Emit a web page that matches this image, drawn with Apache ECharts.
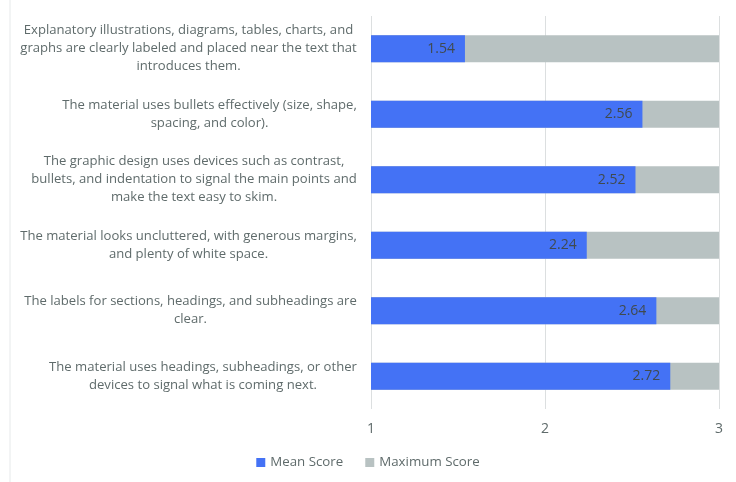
<!DOCTYPE html>
<html><head><meta charset="utf-8">
<script src="https://cdn.jsdelivr.net/npm/echarts@6/dist/echarts.min.js"></script>
<style>html,body{margin:0;padding:0;background:#fff}#c{width:736px;height:482px}</style>
</head><body><div id="c"></div>
<script>
const categories = [
  "Explanatory illustrations, diagrams, tables, charts, and\ngraphs are clearly labeled and placed near the text that\nintroduces them.",
  "The material uses bullets effectively (size, shape,\nspacing, and color).",
  "The graphic design uses devices such as contrast,\nbullets, and indentation to signal the main points and\nmake the text easy to skim.",
  "The material looks uncluttered, with generous margins,\nand plenty of white space.",
  "The labels for sections, headings, and subheadings are\nclear.",
  "The material uses headings, subheadings, or other\ndevices to signal what is coming next."
];
const meanScore = [1.54, 2.56, 2.52, 2.24, 2.64, 2.72];
const maximumScore = [3, 3, 3, 3, 3, 3];
const xTicks = [1, 2, 3];

const FONT = '"Open Sans"';
const FS = 13.1;
const cv = document.createElement('canvas').getContext('2d');
cv.font = FS + 'px ' + FONT;
const rich = {};
const fmtMap = {};
categories.forEach((c, i) => {
  const lines = c.split('\n');
  const w = Math.ceil(Math.max(...lines.map(l => cv.measureText(l).width)));
  rich['r' + i] = {width: w, align: 'center', fontFamily: FONT, fontSize: FS, color: '#5f6b6b', lineHeight: 18};
  fmtMap[c] = lines.map(l => '{r' + i + '|' + l + '}').join('\n');
});

const chart = echarts.init(document.getElementById('c'));
chart.setOption({
  animation: false,
  graphic: [{type: 'line', shape: {x1: 10, y1: 0, x2: 10, y2: 482}, style: {stroke: '#e6e9ea', lineWidth: 1}}],
  grid: {left: 371, right: 17, top: 16, bottom: 73},
  legend: {
    bottom: 8, left: 'center', itemWidth: 9, itemHeight: 9, itemGap: 22,
    icon: 'rect',
    data: ['Mean Score', 'Maximum Score'],
    textStyle: {fontFamily: FONT, fontSize: 13.3, color: '#5f6b6b'}
  },
  xAxis: {
    type: 'value', min: xTicks[0], max: xTicks[xTicks.length - 1], interval: 1,
    axisLine: {show: false}, axisTick: {show: false},
    splitLine: {lineStyle: {color: '#dcdfe0', width: 1}},
    axisLabel: {fontFamily: FONT, fontSize: 14, color: '#5f6b6b', margin: 13}
  },
  yAxis: {
    type: 'category', inverse: true, data: categories,
    axisLine: {show: false}, axisTick: {show: false},
    axisLabel: {margin: 14, formatter: v => fmtMap[v], rich: rich}
  },
  series: [
    {name: 'Maximum Score', type: 'bar', data: maximumScore, barWidth: '41%', barGap: '-100%',
     itemStyle: {color: '#b8c2c2'}, z: 1},
    {name: 'Mean Score', type: 'bar', data: meanScore, barWidth: '41%', barGap: '-100%',
     itemStyle: {color: '#4472f5'}, z: 2,
     label: {show: true, position: 'insideRight', distance: 10, color: '#404a4f',
             fontFamily: FONT, fontSize: 14, formatter: p => p.value.toFixed(2)}}
  ]
});
</script></body></html>
